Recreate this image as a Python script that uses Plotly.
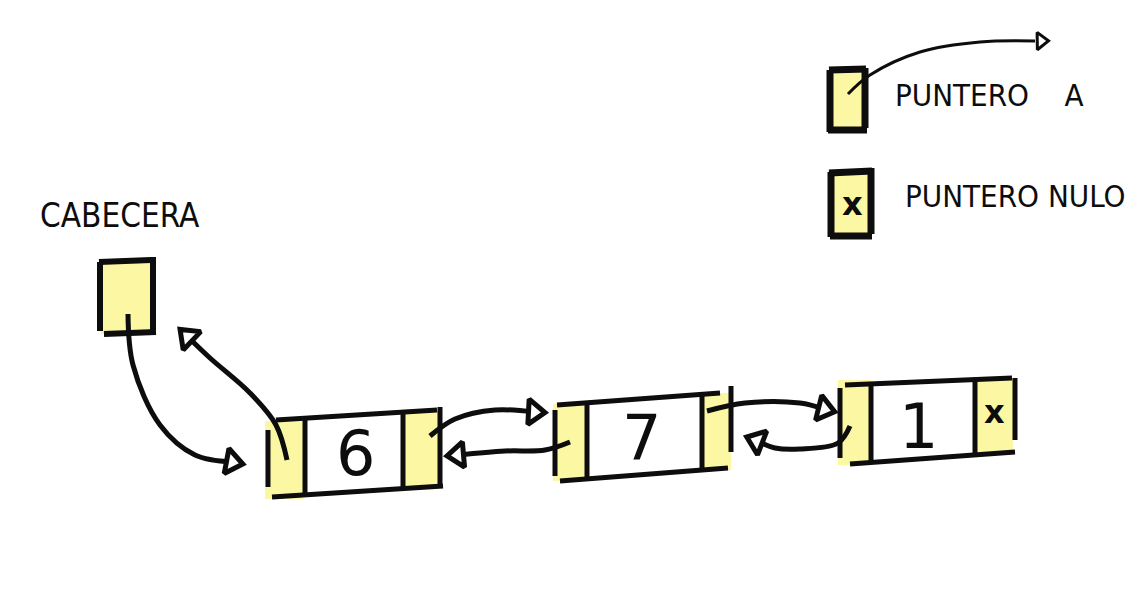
import math
import plotly.graph_objects as go

# ---- data ----
node_values = ["6", "7", "1"]
head_label = "CABECERA"
legend_labels = ["PUNTERO A", "PUNTERO NULO"]
null_mark = "x"

# ---- layout geometry (pixel space) ----
W, H = 1137, 616
YEL = "#fcf7a2"
INK = "#0d0d0d"
LW = 5

nodes_geo = [
    dict(tl=(276, 420), tr=(437, 410), bl=(272, 497), br=(443, 486),
         d1=(305, 419, 494), d2=(403, 411, 487),
         le=(268, 430, 487), re=(440, 407, 486),
         yl=(265, 303, 421, 499), yr=(403, 440, 409, 488), c=(355, 453)),
    dict(tl=(557, 405), tr=(720, 393), bl=(560, 481), br=(728, 468),
         d1=(587, 404, 478), d2=(702, 394, 469),
         le=(555, 410, 476), re=(731, 386, 452),
         yl=(553, 587, 404, 481), yr=(702, 731, 393, 470), c=(641, 437)),
    dict(tl=(845, 385), tr=(1012, 378), bl=(850, 464), br=(1015, 452),
         d1=(871, 385, 462), d2=(975, 380, 455),
         le=(840, 388, 458), re=(1015, 378, 440),
         yl=(838, 871, 380, 465), yr=(975, 1013, 378, 455), c=(918, 426)),
]

fig = go.Figure()
shapes = []


def rect_fill(x0, x1, y0, y1):
    shapes.append(dict(type="rect", x0=x0, x1=x1, y0=y0, y1=y1,
                       fillcolor=YEL, line=dict(width=0), layer="below"))


def stroke(xs, ys, width=LW, spline=False):
    fig.add_trace(go.Scatter(x=xs, y=ys, mode="lines", hoverinfo="skip",
                             line=dict(color=INK, width=width,
                                       shape="spline" if spline else "linear")))


def arrowhead(p_prev, p_end, size=22, lw=5):
    dx = p_end[0] - p_prev[0]
    dy = p_end[1] - p_prev[1]
    ang = math.degrees(math.atan2(dx, -dy))
    fig.add_trace(go.Scatter(x=[p_end[0]], y=[p_end[1]], mode="markers", hoverinfo="skip",
                             marker=dict(symbol="triangle-up", size=size, angle=ang,
                                         color="white", line=dict(color=INK, width=lw))))


for g in nodes_geo:
    rect_fill(g["yl"][0], g["yl"][1], g["yl"][2], g["yl"][3])
    rect_fill(g["yr"][0], g["yr"][1], g["yr"][2], g["yr"][3])
for g, val in zip(nodes_geo, node_values):
    stroke([g["tl"][0], g["tr"][0]], [g["tl"][1], g["tr"][1]])
    stroke([g["bl"][0], g["br"][0]], [g["bl"][1], g["br"][1]])
    stroke([g["d1"][0], g["d1"][0]], [g["d1"][1], g["d1"][2]])
    stroke([g["d2"][0], g["d2"][0]], [g["d2"][1], g["d2"][2]])
    stroke([g["le"][0], g["le"][0]], [g["le"][1], g["le"][2]])
    stroke([g["re"][0], g["re"][0]], [g["re"][1], g["re"][2]])
    fig.add_annotation(x=g["c"][0], y=g["c"][1], text=val, showarrow=False,
                       font=dict(family="DejaVu Sans", size=62, color=INK))

last = nodes_geo[-1]
fig.add_annotation(x=(last["yr"][0] + last["yr"][1]) / 2, y=412, text=null_mark, showarrow=False,
                   font=dict(family="DejaVu Sans", size=32, color=INK), font_weight="bold")

# header box
rect_fill(101, 155, 261, 334)
stroke([100, 100], [262, 331], width=6)
stroke([99, 151], [262, 260], width=6)
stroke([153, 153], [257, 330], width=6)
stroke([104, 156], [334, 332], width=6)
fig.add_annotation(x=120, y=215, text=head_label, showarrow=False,
                   font=dict(family="DejaVu Sans Condensed", size=33, color=INK))

paths = [
    [(128, 314), (133, 365), (160, 425), (195, 455), (232, 462)],
    [(287, 460), (276, 425), (250, 393), (210, 358), (188, 337)],
    [(430, 436), (455, 419), (495, 410), (534, 412)],
    [(570, 442), (545, 450), (505, 451), (458, 455)],
    [(707, 411), (745, 403), (800, 403), (824, 409)],
    [(850, 426), (838, 443), (800, 449), (775, 448), (757, 441)],
]
for p in paths:
    stroke([q[0] for q in p], [q[1] for q in p], spline=True)
    arrowhead(p[-2], p[-1])

# legend
rect_fill(829, 866, 70, 130)
stroke([830, 830], [70, 132], width=7)
stroke([829, 866], [70, 69], width=7)
stroke([865, 865], [68, 128], width=7)
stroke([828, 867], [130, 130], width=7)
leg_path = [(848, 94), (870, 75), (920, 52), (980, 42), (1035, 41)]
stroke([q[0] for q in leg_path], [q[1] for q in leg_path], width=3, spline=True)
arrowhead(leg_path[-2], (1041, 41), size=15, lw=3)

rect_fill(830, 872, 172, 236)
stroke([831, 831], [172, 237], width=7)
stroke([829, 872], [173, 171], width=7)
stroke([871, 871], [168, 234], width=7)
stroke([830, 872], [236, 236], width=7)
fig.add_annotation(x=852, y=204, text=null_mark, showarrow=False,
                   font=dict(family="DejaVu Sans", size=32, color=INK), font_weight="bold")

fig.add_annotation(x=893, y=95, xanchor="left", text="PUNTERO&nbsp;&nbsp;&nbsp;&nbsp;A", showarrow=False,
                   font=dict(family="DejaVu Sans Condensed", size=31, color=INK))
fig.add_annotation(x=903, y=196, xanchor="left", text=legend_labels[1], showarrow=False,
                   font=dict(family="DejaVu Sans Condensed", size=31, color=INK))

fig.update_layout(
    width=W, height=H, margin=dict(l=0, r=0, t=0, b=0),
    paper_bgcolor="white", plot_bgcolor="white", showlegend=False,
    shapes=shapes,
    xaxis=dict(range=[0, W], visible=False, fixedrange=True),
    yaxis=dict(range=[H, 0], visible=False, fixedrange=True),
)
fig.write_html("out.html", config={"displayModeBar": False},
               post_script="document.body.style.margin='0';document.body.style.overflow='hidden';")
